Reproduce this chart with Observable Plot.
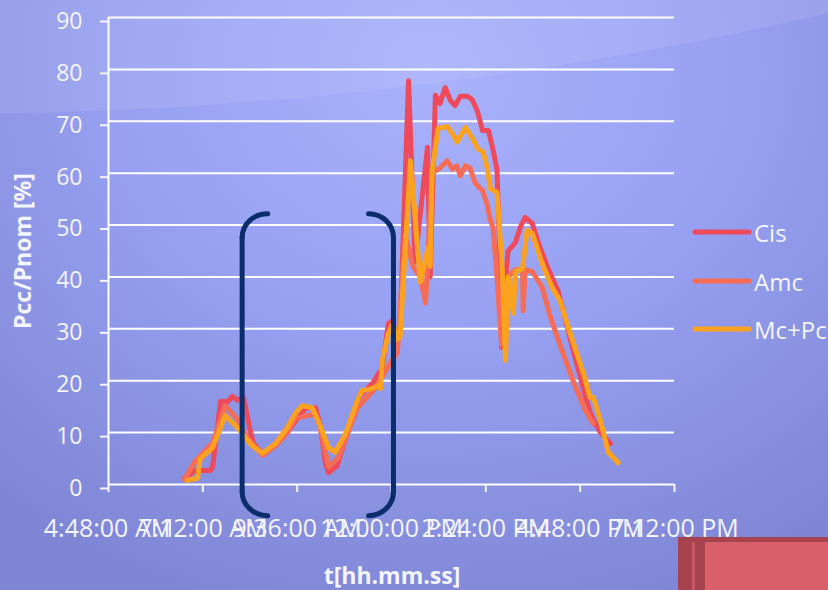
<!DOCTYPE html>
<html>
<head>
<meta charset="utf-8">
<script src="https://cdn.jsdelivr.net/npm/d3@7"></script>
<script src="https://cdn.jsdelivr.net/npm/@observablehq/plot@0.6"></script>
<style>
  html, body { margin: 0; padding: 0; }
  body {
    width: 828px; height: 590px; overflow: hidden; position: relative;
    font-family: "Open Sans", sans-serif;
    background: radial-gradient(ellipse 80% 95% at 52% 12%, #a9b2fc 0%, #98a1f2 45%, #7f86d5 100%);
  }
  #sheen {
    position: absolute; left: -4027px; top: -7820px; width: 7934px; height: 7934px;
    border-radius: 50%; background: rgba(225, 225, 245, 0.13);
  }
  #chart { position: absolute; left: 0; top: 0; }
  .title { position: absolute; color: #f4f5ff; font-weight: 700; font-size: 23px; line-height: 24px; white-space: nowrap; }
  #ytitle { left: 22px; top: 251px; transform: translate(-50%, -50%) rotate(-90deg); }
  #xtitle { left: 392px; top: 563px; transform: translateX(-50%); }
  .key { position: absolute; left: 692px; height: 30px; display: flex; align-items: center; color: #f4f5ff; font-size: 24px; }
  .key svg { margin-right: 2px; }
  #tab { position: absolute; left: 678px; top: 537px; width: 150px; height: 53px; background: #a7434f; }
  #tab .stripe { position: absolute; left: 14px; top: 5px; width: 3px; height: 48px; background: #c85663; }
  #tab .face { position: absolute; left: 27px; top: 5px; right: 0; bottom: 0; background: #d9606b; }
</style>
</head>
<body>
<div id="sheen"></div>
<div id="chart"></div>
<div class="title" id="ytitle">Pcc/Pnom [%]</div>
<div class="title" id="xtitle">t[hh.mm.ss]</div>
<div id="legend"></div>
<div id="tab"><div class="stripe"></div><div class="face"></div></div>
<script>
// Series names and colours
const seriesNames = ["Cis", "Amc", "Mc+Pc"];
const seriesColors = ["#ee4a5c", "#f76c55", "#fba21f"];

// Cis
const cisTime = ["6:44","7:01","7:24","7:27","7:39","7:50","7:57","8:05","8:14","8:25","8:29","8:43","9:03","9:21","9:41","9:50","10:04","10:11","10:19","10:24","10:37","10:50","11:08","11:15","11:31","11:46","11:55","12:01","12:09","12:13","12:26","12:36","12:55","12:59","13:07","13:14","13:22","13:30","13:37","13:45","13:56","14:03","14:11","14:19","14:28","14:35","14:41","14:46","14:48","14:53","14:58","15:09","15:17","15:24","15:35","15:44","15:59","16:14","16:25","16:37","16:53","17:03","17:08","17:19","17:34"];
const cisValue = [1.2,2.7,2.7,3.5,16.0,16.0,17.0,16.2,16.8,10.0,8.0,5.8,7.5,10.0,13.6,14.8,14.8,11.5,4.2,2.3,3.6,8.8,16.2,17.5,19.5,22.5,31.0,31.5,28.0,29.7,77.8,43.0,65.0,40.0,75.0,73.4,76.5,74.0,73.0,74.8,74.8,74.2,72.0,68.2,68.2,64.5,60.7,41.6,26.4,38.0,45.0,46.6,49.7,51.5,50.3,46.6,41.6,37.4,32.0,26.0,18.5,14.0,12.5,10.0,7.9];

// Amc
const amcTime = ["6:44","7:01","7:27","7:46","8:04","8:20","8:43","9:03","9:21","9:33","10:04","10:11","10:24","10:39","11:08","11:36","12:01","12:09","12:21","12:33","12:44","12:52","13:02","13:14","13:25","13:33","13:40","13:45","13:53","14:00","14:08","14:19","14:26","14:31","14:35","14:41","14:48","14:58","15:09","15:20","15:21","15:24","15:35","15:50","16:02","16:17","16:37","16:56","17:08"];
const amcValue = [1.0,4.6,8.0,15.2,12.7,9.0,5.6,7.5,10.0,12.8,13.6,11.0,3.4,5.2,14.8,18.7,24.0,25.4,48.0,42.0,40.0,35.0,60.0,61.0,62.4,60.8,61.4,59.5,61.4,61.0,58.0,56.6,54.0,50.9,49.5,40.0,27.0,40.0,41.4,41.4,33.5,41.4,41.0,38.0,32.5,27.0,20.0,14.3,11.7];

// Mc+Pc
const mcTime = ["6:48","7:04","7:08","7:27","7:46","8:06","8:27","8:43","9:03","9:21","9:33","9:44","9:59","10:08","10:24","10:34","10:50","11:08","11:15","11:31","11:38","11:43","11:46","11:55","12:02","12:09","12:13","12:29","12:44","12:56","12:59","13:02","13:11","13:25","13:33","13:40","13:53","14:03","14:12","14:20","14:26","14:31","14:41","14:43","14:49","14:54","14:58","15:06","15:09","15:20","15:27","15:35","15:50","16:05","16:17","16:33","16:53","17:03","17:08","17:19","17:31","17:46"];
const mcValue = [0.8,1.2,5.0,7.1,13.3,10.8,7.5,6.0,7.9,11.0,13.7,15.2,14.8,12.3,7.1,6.2,9.8,16.2,18.1,18.5,19.0,18.5,23.9,29.0,31.0,28.0,28.5,62.4,39.0,45.6,42.0,60.5,68.6,69.0,67.6,66.0,68.8,66.8,64.7,64.0,61.0,57.0,56.3,52.8,41.6,23.9,40.0,33.0,41.0,41.6,49.0,48.4,42.6,38.0,35.5,29.0,21.4,16.8,16.8,12.3,6.2,4.2];

// Axis ticks
const xTickTimes = ["4:48","7:12","9:36","12:00","14:24","16:48","19:12"];
const yTicks = [0,10,20,30,40,50,60,70,80,90];

// Bracket pair around the late-morning window: stem time, tip time, and vertical extent (%)
const bracketStems = ["8:12", "12:03"];
const bracketTips = ["8:51", "11:25"];
const bracketTop = 52.2;
const bracketBottom = -6.0;
const bracketBend = 4.6;

const parse = s => { const [h, m] = s.split(":").map(Number); return new Date(Date.UTC(2000, 0, 1, h, m)); };
const fmt = d3.utcFormat("%-I:%M:%S %p");
const rows = (times, values) => times.map((t, i) => ({time: parse(t), value: values[i]}));
const series = [rows(cisTime, cisValue), rows(amcTime, amcValue), rows(mcTime, mcValue)];
const xTicks = xTickTimes.map(parse);

// Rounded corners: each three-point piece (end, corner, end) becomes a quarter-circle-like cubic
function cornerCurve(context) {
  let pts = [];
  return {
    areaStart() {}, areaEnd() {},
    lineStart() { pts = []; },
    point(x, y) { pts.push([+x, +y]); },
    lineEnd() {
      if (!pts.length) return;
      const k = 0.5523;
      context.moveTo(pts[0][0], pts[0][1]);
      if (pts.length === 3) {
        const [a, b, c] = pts;
        context.bezierCurveTo(
          a[0] + k * (b[0] - a[0]), a[1] + k * (b[1] - a[1]),
          c[0] + k * (b[0] - c[0]), c[1] + k * (b[1] - c[1]),
          c[0], c[1]);
      } else {
        for (const p of pts.slice(1)) context.lineTo(p[0], p[1]);
      }
    }
  };
}

// Each bracket = rounded top corner, straight stem, rounded bottom corner
const bracketCorners = [], bracketStemRows = [];
bracketStems.forEach((stem, i) => {
  const s = parse(stem), t = parse(bracketTips[i]);
  bracketCorners.push(
    {piece: `${i}-top`, time: t, value: bracketTop},
    {piece: `${i}-top`, time: s, value: bracketTop},
    {piece: `${i}-top`, time: s, value: bracketTop - bracketBend},
    {piece: `${i}-bottom`, time: s, value: bracketBottom + bracketBend},
    {piece: `${i}-bottom`, time: s, value: bracketBottom},
    {piece: `${i}-bottom`, time: t, value: bracketBottom}
  );
  bracketStemRows.push(
    {piece: `${i}`, time: s, value: bracketTop - bracketBend},
    {piece: `${i}`, time: s, value: bracketBottom + bracketBend}
  );
});

const chart = Plot.plot({
  width: 828,
  height: 590,
  marginLeft: 108,
  marginRight: 154,
  marginTop: 17,
  marginBottom: 106,
  style: {background: "transparent", color: "#f4f5ff", fontFamily: "'Open Sans', sans-serif", fontSize: "23px", overflow: "visible"},
  x: {type: "utc", domain: [xTicks[0], xTicks[xTicks.length - 1]]},
  y: {domain: [0, 90]},
  marks: [
    Plot.ruleY(yTicks, {stroke: "#ffffff", strokeWidth: 2}),
    Plot.ruleX([xTicks[0]], {stroke: "#ffffff", strokeWidth: 2}),
    Plot.axisX(xTicks, {tickFormat: fmt, tickSize: 8, tickPadding: 27, strokeWidth: 2, fontSize: 25, label: null}),
    Plot.axisY(yTicks, {tickSize: 8, tickPadding: 18, dy: 4, strokeWidth: 2, fontSize: 23, label: null}),
    ...series.map((data, i) => Plot.line(data, {
      x: "time", y: "value", stroke: seriesColors[i], strokeWidth: 5,
      strokeLinejoin: "round", strokeLinecap: "round"
    })),
    Plot.line(bracketCorners, {x: "time", y: "value", z: "piece", curve: cornerCurve, stroke: "#0b2d6b", strokeWidth: 5}),
    Plot.line(bracketStemRows, {x: "time", y: "value", z: "piece", stroke: "#0b2d6b", strokeWidth: 5})
  ]
});
document.getElementById("chart").appendChild(chart);

// Legend
const legend = document.getElementById("legend");
const keyTops = [217, 266, 314];
seriesNames.forEach((name, i) => {
  const item = document.createElement("div");
  item.className = "key";
  item.style.top = keyTops[i] + "px";
  item.innerHTML = `<svg width="60" height="10"><line x1="3" y1="5" x2="57" y2="5" stroke="${seriesColors[i]}" stroke-width="5" stroke-linecap="round"/></svg><span>${name}</span>`;
  legend.appendChild(item);
});
</script>
</body>
</html>
